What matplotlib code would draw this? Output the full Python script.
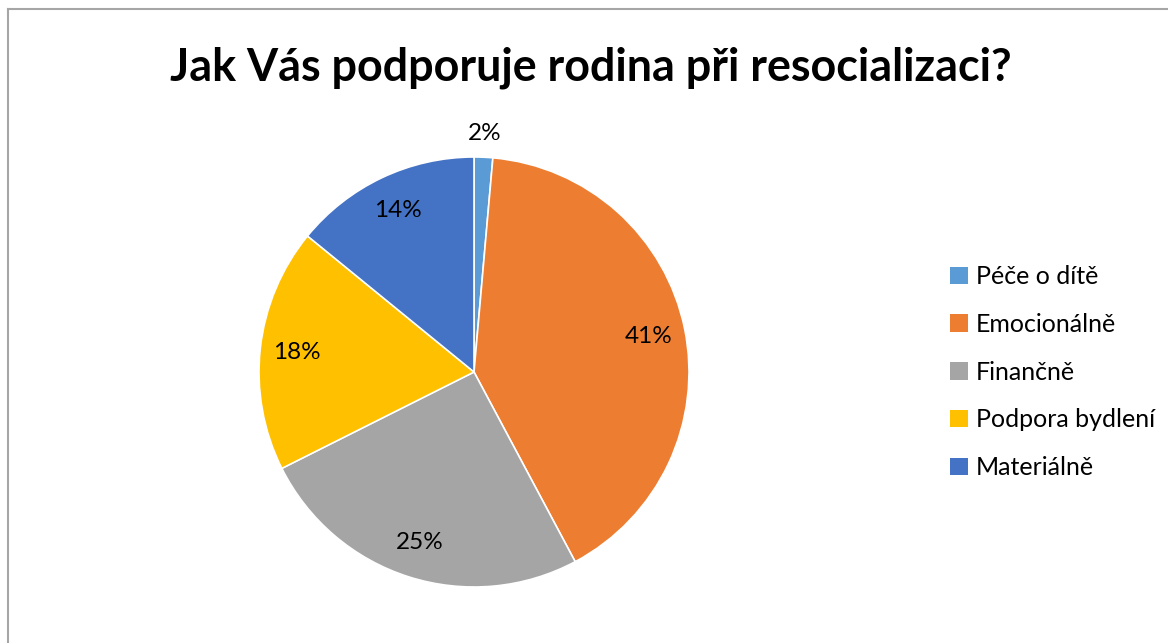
import numpy as np
import matplotlib.pyplot as plt
from matplotlib.patches import Patch
from matplotlib.lines import Line2D

plt.rcParams['font.family'] = ['Lato', 'DejaVu Sans']

# podíly odpovědí
categories = ["Péče o dítě", "Emocionálně", "Finančně", "Podpora bydlení", "Materiálně"]
shares = [1.4, 40.8, 25.4, 18.3, 14.1]
pct_labels = ["2%", "41%", "25%", "18%", "14%"]
colors = ["#5B9BD5", "#ED7D31", "#A5A5A5", "#FFC000", "#4472C4"]

W, H = 1168, 643
fig = plt.figure(figsize=(W / 100, H / 100), dpi=100)

# pie centre ~ (474, 372), radius ~215 px
cx, cy, r = 474, 372, 215
ax = fig.add_axes([(cx - r) / W, (H - cy - r) / H, 2 * r / W, 2 * r / H])
wedges, _ = ax.pie(shares, colors=colors, startangle=90, counterclock=False,
                   radius=1, wedgeprops=dict(edgecolor="white", linewidth=1.2))
ax.set_xlim(-1, 1)
ax.set_ylim(-1, 1)
ax.set_aspect("equal")

for w, lab in zip(wedges, pct_labels):
    ang = np.deg2rad((w.theta1 + w.theta2) / 2)
    d = 1.11 if (w.theta2 - w.theta1) < 10 else 0.83
    ax.text(d * np.cos(ang), d * np.sin(ang), lab, ha="center", va="center",
            fontsize=17.5, color="black", clip_on=False)

fig.text(591 / W, 1 - 68 / H, "Jak Vás podporuje rodina při resocializaci?",
         ha="center", va="center", fontsize=32.3, fontweight="bold", color="black")

handles = [Patch(facecolor=c, edgecolor="none") for c in colors]
fig.legend(handles, categories, loc="upper left", bbox_to_anchor=(950 / W, 1 - 265 / H),
           frameon=False, fontsize=18, handlelength=0.7, handleheight=0.7,
           handletextpad=0.35, labelspacing=0.99, borderaxespad=0, borderpad=0)

# rámeček grafu (jen horní a levá hrana jsou vidět)
fig.add_artist(Line2D([8 / W, 8 / W], [0, 1 - 9 / H], color="#A6A6A6", lw=1.5))
fig.add_artist(Line2D([8 / W, 1], [1 - 9 / H, 1 - 9 / H], color="#A6A6A6", lw=1.5))

fig.savefig("out.png", dpi=100, facecolor="white")
